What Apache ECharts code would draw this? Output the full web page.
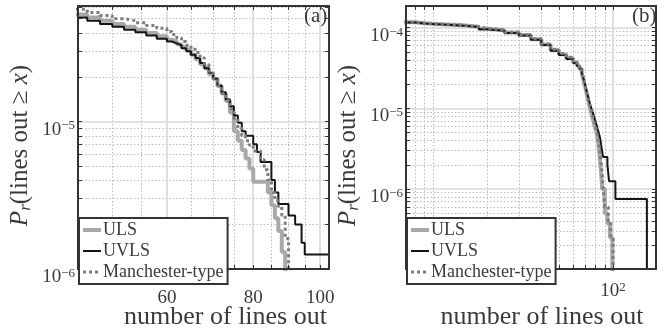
<!DOCTYPE html>
<html>
<head>
<meta charset="utf-8">
<script src="https://cdn.jsdelivr.net/npm/echarts@6/dist/echarts.min.js"></script>
<style>
html, body { margin: 0; padding: 0; background: #fff; }
#chart { width: 665px; height: 335px; }
</style>
</head>
<body>
<div id="chart"></div>
<script>
// ---- Panel (a): tail probability vs number of lines out ----
const aUlsX = [42,44,46,48,50,52,54,56,58,60,61,62,63,64,65,66,67,68,69,70,71,72,73,74,75,76,77,78,79,80,84,85,86,87,88,89];
const aUlsP = [5.55e-5,5.35e-5,5.1e-5,4.85e-5,4.6e-5,4.4e-5,4.2e-5,4.0e-5,3.8e-5,3.6e-5,3.5e-5,3.35e-5,3.2e-5,3.05e-5,2.85e-5,2.65e-5,2.45e-5,2.3e-5,2.1e-5,1.95e-5,1.75e-5,1.55e-5,1.38e-5,1.15e-5,8.6e-6,7.4e-6,6.4e-6,5.6e-6,4.8e-6,3.9e-6,3.3e-6,2.7e-6,2.2e-6,1.8e-6,1.3e-6,1e-8];

const aUvlsX = [42,44,46,48,50,52,54,56,58,60,61,62,63,64,65,66,67,68,69,70,71,72,73,74,75,76,77,78,80,81,82,85,86,87,90,92,94,95,110];
const aUvlsP = [5.3e-5,5.1e-5,4.85e-5,4.6e-5,4.4e-5,4.2e-5,4.05e-5,3.85e-5,3.65e-5,3.5e-5,3.4e-5,3.3e-5,3.15e-5,3.0e-5,2.85e-5,2.7e-5,2.5e-5,2.3e-5,2.15e-5,1.95e-5,1.75e-5,1.58e-5,1.42e-5,1.27e-5,1.1e-5,9.8e-6,8.6e-6,8.0e-6,7.0e-6,6.2e-6,5.3e-6,4.0e-6,3.3e-6,2.75e-6,2.3e-6,2.0e-6,1.5e-6,1.25e-6,1.25e-6];

const aManX = [42,44,46,48,50,52,54,56,58,60,61,62,63,64,65,66,67,68,69,70,71,72,73,74,75,76,77,78,79,80,82,83,84,85,86,87,88,89,90];
const aManP = [6.0e-5,5.8e-5,5.5e-5,5.25e-5,5.0e-5,4.85e-5,4.7e-5,4.5e-5,4.3e-5,4.1e-5,3.9e-5,3.7e-5,3.5e-5,3.3e-5,3.1e-5,2.95e-5,2.7e-5,2.45e-5,2.2e-5,1.95e-5,1.75e-5,1.55e-5,1.4e-5,1.22e-5,1.05e-5,9.0e-6,8.0e-6,7.4e-6,6.9e-6,6.3e-6,5.5e-6,4.7e-6,4.0e-6,3.3e-6,2.9e-6,2.65e-6,2.3e-6,1.6e-6,1e-8];

// ---- Panel (b) ----
const bUlsX = [6,8,9,10,12,15,18,20,25,30,35,40,45,50,55,60,63,65,67,68,69,70,71,72,73,74,75,76,77,78,79,80,81,82,83,84,85,86,87,90,93,96,99];
const bUlsP = [1.17e-4,1.14e-4,1.12e-4,1.1e-4,1.07e-4,1.03e-4,9.7e-5,9.3e-5,8.7e-5,8.1e-5,7.2e-5,6.2e-5,5.3e-5,4.7e-5,4.2e-5,3.7e-5,3.4e-5,3.1e-5,2.7e-5,2.4e-5,2.1e-5,1.85e-5,1.6e-5,1.4e-5,1.22e-5,1.07e-5,9.5e-6,8.5e-6,7.5e-6,6.8e-6,6.1e-6,5.5e-6,5.0e-6,4.2e-6,3.5e-6,2.7e-6,2.0e-6,1.5e-6,1.0e-6,5e-7,3.75e-7,2.5e-7,1e-9];

const bUvlsX = [6,8,9,10,12,15,18,20,25,30,35,40,45,50,55,60,63,65,67,68,69,70,71,72,73,74,75,76,77,78,79,80,81,82,83,84,85,86,87,88,93,95,103,154];
const bUvlsP = [1.16e-4,1.13e-4,1.11e-4,1.09e-4,1.06e-4,1.02e-4,9.6e-5,9.2e-5,8.6e-5,8.0e-5,7.1e-5,6.1e-5,5.2e-5,4.6e-5,4.1e-5,3.65e-5,3.35e-5,3.1e-5,2.75e-5,2.5e-5,2.2e-5,1.95e-5,1.7e-5,1.5e-5,1.35e-5,1.2e-5,1.08e-5,9.8e-6,9.0e-6,8.2e-6,7.5e-6,6.9e-6,6.2e-6,5.6e-6,5.1e-6,4.6e-6,4.1e-6,3.4e-6,2.9e-6,2.5e-6,2.0e-6,1.25e-6,7.5e-7,1e-9];

const bManX = [6,8,9,10,12,15,18,20,25,30,35,40,45,50,55,60,63,65,67,68,69,70,71,72,73,74,75,76,77,78,79,80,81,82,83,84,85,86,87,88,90,94,97,100];
const bManP = [1.17e-4,1.14e-4,1.12e-4,1.1e-4,1.07e-4,1.03e-4,9.8e-5,9.4e-5,8.8e-5,8.2e-5,7.3e-5,6.3e-5,5.4e-5,4.8e-5,4.3e-5,3.8e-5,3.5e-5,3.2e-5,2.8e-5,2.5e-5,2.2e-5,1.9e-5,1.65e-5,1.45e-5,1.27e-5,1.12e-5,1.0e-5,9.0e-6,8.0e-6,7.2e-6,6.5e-6,5.9e-6,5.3e-6,4.6e-6,3.9e-6,3.2e-6,2.5e-6,2.0e-6,1.5e-6,1.0e-6,6e-7,4e-7,2.5e-7,1e-9];

// ---- Axis ranges, ticks and grid lines ----
const aRangeX = [44.6, 103];
const aRangeY = [0.995e-6, 6.1e-5];
const aTickX = [60, 80, 100];
const aTickY = [1e-6, 1e-5];
const aMajorX = [60, 80, 100];
const aMinorX = [50, 55, 65, 70, 75, 85, 90, 95];
const aMajorY = [1e-5];
const aMinorY = [2e-6,3e-6,4e-6,5e-6,6e-6,7e-6,8e-6,9e-6,2e-5,3e-5,4e-5,5e-5,6e-5];

const bRangeX = [7.1, 173];
const bRangeY = [1.02e-7, 1.86e-4];
const bTickX = [100];
const bTickY = [1e-6, 1e-5, 1e-4];
const bMajorX = [100];
const bMinorX = [8, 9, 10, 20, 30, 40, 50, 60, 70, 80, 90];
const bMajorY = [1e-6, 1e-5, 1e-4];
const bMinorY = [2e-7,3e-7,4e-7,5e-7,6e-7,7e-7,8e-7,9e-7,2e-6,3e-6,4e-6,5e-6,6e-6,7e-6,8e-6,9e-6,2e-5,3e-5,4e-5,5e-5,6e-5,7e-5,8e-5,9e-5];

const seriesNames = ['ULS', 'UVLS', 'Manchester-type'];

const FONT = 'Liberation Serif';
const TXT = '#3a3a3a';
const FRAME = '#333';

const zip = (xs, ys) => xs.map((x, i) => [x, ys[i]]);

function powLabel(v) {
  const e = Math.round(Math.log10(v));
  const s = e < 0 ? '\u2212' + (-e) : String(e);
  return '{m|10}{e|' + s + '}';
}
const powRich = {
  m: { fontFamily: FONT, fontSize: 19, color: TXT, lineHeight: 20 },
  e: { fontFamily: FONT, fontSize: 13, color: TXT, verticalAlign: 'top', lineHeight: 13 }
};

function makeX(gi, range, ticks, all, pos, labelFmt, rich, margin, nameShift) {
  const shown = pos === 'bottom';
  return {
    type: 'log', logBase: 10, gridIndex: gi, position: pos, min: range[0], max: range[1], z: 10,
    axisLine: { show: true, onZero: false, lineStyle: { color: FRAME, width: 2 } },
    axisTick: { show: true, inside: true, length: 4, customValues: all, lineStyle: { color: FRAME, width: 1 } },
    splitLine: { show: false }, minorTick: { show: false }, minorSplitLine: { show: false },
    axisLabel: shown ? {
      show: true, customValues: ticks, formatter: labelFmt, margin: margin,
      fontFamily: FONT, fontSize: 19, color: TXT, rich: rich
    } : { show: false },
    name: shown ? 'number of lines out' : '',
    nameLocation: 'middle', nameGap: 35, nameMoveOverlap: false,
    nameTextStyle: { fontFamily: FONT, fontSize: 26, color: TXT, padding: [0, 0, 0, nameShift || 0] }
  };
}

function makeY(gi, range, ticks, all, pos) {
  const shown = pos === 'left';
  return {
    type: 'log', logBase: 10, gridIndex: gi, position: pos, min: range[0], max: range[1], z: 10,
    axisLine: { show: true, onZero: false, lineStyle: { color: FRAME, width: 2 } },
    axisTick: { show: true, inside: true, length: 4, customValues: all, lineStyle: { color: FRAME, width: 1 } },
    splitLine: { show: false }, minorTick: { show: false }, minorSplitLine: { show: false },
    axisLabel: shown ? {
      show: true, customValues: ticks, formatter: powLabel, margin: 3, rich: powRich,
      padding: [16, 0, 0, 0]
    } : { show: false },
    name: shown ? '{i|P}{sub|r}{n|(lines out \u2265 }{i|x}{n|)}' : '',
    nameLocation: 'middle', nameGap: 44, nameRotate: 90, nameMoveOverlap: false,
    nameTextStyle: {
      padding: [0, 16, 0, 0],
      rich: {
        i: { fontFamily: FONT, fontStyle: 'italic', fontSize: 25, color: TXT, lineHeight: 28 },
        sub: { fontFamily: FONT, fontStyle: 'italic', fontSize: 17, color: TXT, verticalAlign: 'bottom', lineHeight: 17 },
        n: { fontFamily: FONT, fontSize: 25, color: TXT, lineHeight: 28 }
      }
    }
  };
}

// Grid lines are drawn as mark lines spanning each panel's value range.
function gridLines(xi, yi, rx, ry, majX, minX, majY, minY) {
  const solid = { type: 'solid', color: '#d8d8d8', width: 1.6 };
  const dot = { type: [1.5, 2], color: '#bcbcbc', width: 1 };
  const vline = (v, st) => [{ coord: [v, ry[0]], lineStyle: st }, { coord: [v, ry[1]] }];
  const hline = (v, st) => [{ coord: [rx[0], v], lineStyle: st }, { coord: [rx[1], v] }];
  const data = [].concat(
    minX.map(v => vline(v, dot)),
    minY.map(v => hline(v, dot)),
    majX.map(v => vline(v, solid)),
    majY.map(v => hline(v, solid))
  );
  return {
    type: 'line', xAxisIndex: xi, yAxisIndex: yi, data: [], z: 1, silent: true,
    markLine: { symbol: 'none', silent: true, animation: false, z: 1, precision: 10, label: { show: false }, emphasis: { disabled: true }, data }
  };
}

function curves(xi, yi, uls, uvls, man) {
  const base = { type: 'line', xAxisIndex: xi, yAxisIndex: yi, step: 'end', symbol: 'none', showSymbol: false, clip: true, silent: true, emphasis: { disabled: true } };
  return [
    Object.assign({}, base, { name: seriesNames[0], data: uls, z: 3, lineStyle: { color: '#a9a9a9', width: 4 }, itemStyle: { color: '#a9a9a9' } }),
    Object.assign({}, base, { name: seriesNames[1], data: uvls, z: 4, lineStyle: { color: '#151515', width: 2 }, itemStyle: { color: '#151515' } }),
    Object.assign({}, base, { name: seriesNames[2], data: man, z: 5, lineStyle: { color: '#7c7c7c', width: 3, type: [3, 3] }, itemStyle: { color: '#7c7c7c' } })
  ];
}

function legendAt(left) {
  return {
    data: seriesNames, orient: 'vertical', left: left, top: 218,
    itemWidth: 18, itemHeight: 12, itemGap: 3,
    padding: [3, 4, 3, 2],
    backgroundColor: '#fff', borderColor: FRAME, borderWidth: 2, borderRadius: 0,
    selectedMode: false, z: 20,
    itemStyle: { color: 'rgba(0,0,0,0)', borderColor: 'rgba(0,0,0,0)', borderWidth: 0 },
    lineStyle: { width: 'inherit' },
    textStyle: { fontFamily: FONT, fontSize: 18, color: TXT, lineHeight: 18, padding: [0, 0, 0, -3] }
  };
}

const chart = echarts.init(document.getElementById('chart'), null, { renderer: 'canvas' });
chart.setOption({
  animation: false,
  backgroundColor: '#fff',
  title: [
    { text: '(a)', left: 304, top: 6, padding: 0, textStyle: { fontFamily: FONT, fontSize: 21, fontWeight: 'normal', color: TXT } },
    { text: '(b)', left: 632, top: 6, padding: 0, textStyle: { fontFamily: FONT, fontSize: 21, fontWeight: 'normal', color: TXT } }
  ],
  legend: [legendAt(79), legendAt(407)],
  grid: [
    { left: 78, right: 336, top: 6, bottom: 51, containLabel: false },
    { left: 406, right: 9, top: 6, bottom: 51, containLabel: false }
  ],
  xAxis: [
    makeX(0, aRangeX, aTickX, aMajorX.concat(aMinorX), 'bottom', v => String(Math.round(v)), null, 20, 44),
    makeX(0, aRangeX, aTickX, aMajorX.concat(aMinorX), 'top'),
    makeX(1, bRangeX, bTickX, bMajorX.concat(bMinorX), 'bottom', powLabel, powRich, 12, 22),
    makeX(1, bRangeX, bTickX, bMajorX.concat(bMinorX), 'top')
  ],
  yAxis: [
    makeY(0, aRangeY, aTickY, aMajorY.concat(aMinorY), 'left'),
    makeY(0, aRangeY, aTickY, aMajorY.concat(aMinorY), 'right'),
    makeY(1, bRangeY, bTickY, bMajorY.concat(bMinorY), 'left'),
    makeY(1, bRangeY, bTickY, bMajorY.concat(bMinorY), 'right')
  ],
  series: [
    gridLines(0, 0, aRangeX, aRangeY, aMajorX, aMinorX, aMajorY, aMinorY),
    gridLines(2, 2, bRangeX, bRangeY, bMajorX, bMinorX, bMajorY, bMinorY)
  ].concat(
    curves(0, 0, zip(aUlsX, aUlsP), zip(aUvlsX, aUvlsP), zip(aManX, aManP)),
    curves(2, 2, zip(bUlsX, bUlsP), zip(bUvlsX, bUvlsP), zip(bManX, bManP))
  )
});
</script>
</body>
</html>
